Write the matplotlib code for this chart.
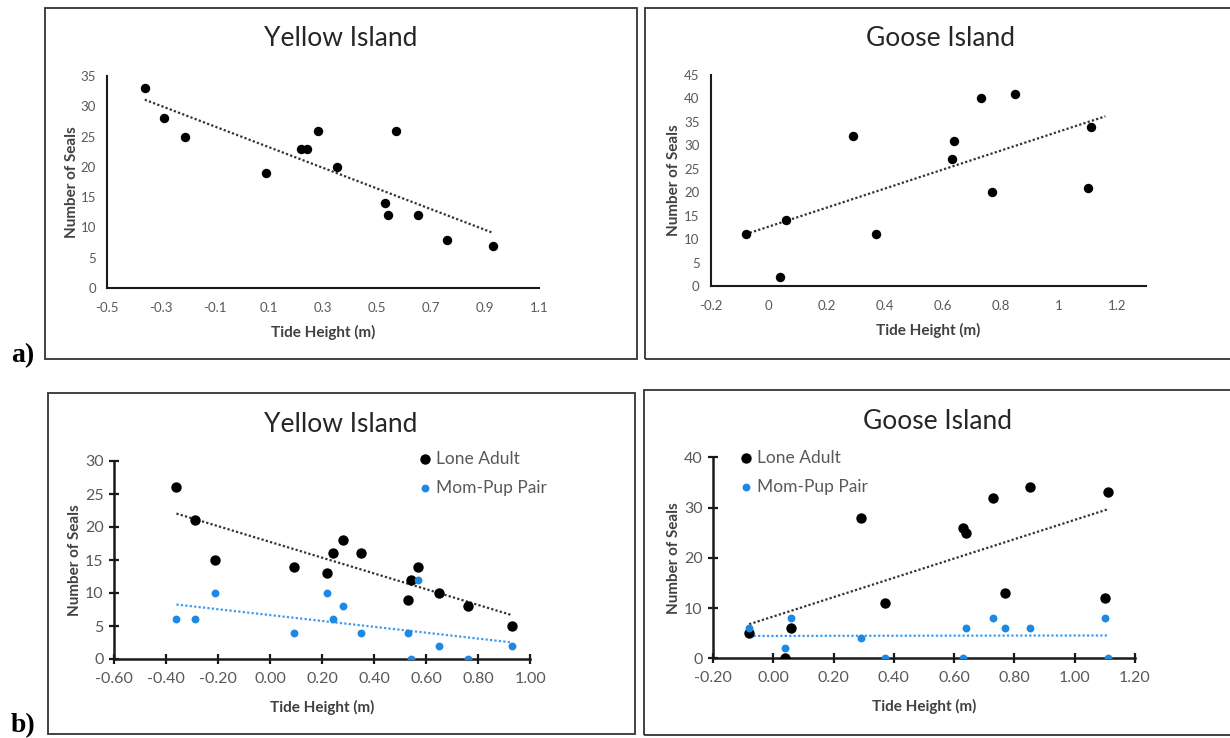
import numpy as np
import matplotlib
matplotlib.use("Agg")
import matplotlib.pyplot as plt
from matplotlib.patches import Rectangle

# ---------------- data ----------------
yellow_tide = [-0.36, -0.29, -0.21, 0.09, 0.22, 0.24, 0.28, 0.35, 0.53, 0.54, 0.57, 0.65, 0.76, 0.93]
yellow_total = [33, 28, 25, 19, 23, 23, 26, 20, 14, 12, 26, 12, 8, 7]
yellow_lone = [26, 21, 15, 14, 13, 16, 18, 16, 9, 12, 14, 10, 8, 5]
yellow_pair = [6, 6, 10, 4, 10, 6, 8, 4, 4, 0, 12, 2, 0, 2]

goose_tide = [-0.08, 0.04, 0.06, 0.29, 0.37, 0.63, 0.64, 0.73, 0.77, 0.85, 1.10, 1.11]
goose_total = [11, 2, 14, 32, 11, 27, 31, 40, 20, 41, 21, 34]
goose_lone = [5, 0, 6, 28, 11, 26, 25, 32, 13, 34, 12, 33]
goose_pair = [6, 2, 8, 4, 0, 0, 6, 8, 6, 6, 8, 0]

titles = ["Yellow Island", "Goose Island"]
series_names = ["Lone Adult", "Mom-Pup Pair"]
xlabel = "Tide Height (m)"
ylabel = "Number of Seals"

ya_xticks = [-0.5, -0.3, -0.1, 0.1, 0.3, 0.5, 0.7, 0.9, 1.1]
ya_xticklabels = ["-0.5", "-0.3", "-0.1", "0.1", "0.3", "0.5", "0.7", "0.9", "1.1"]
ya_yticks = [0, 5, 10, 15, 20, 25, 30, 35]
ga_xticks = [-0.2, 0.0, 0.2, 0.4, 0.6, 0.8, 1.0, 1.2]
ga_xticklabels = ["-0.2", "0", "0.2", "0.4", "0.6", "0.8", "1", "1.2"]
ga_yticks = [0, 5, 10, 15, 20, 25, 30, 35, 40, 45]
yb_xticks = [-0.6, -0.4, -0.2, 0.0, 0.2, 0.4, 0.6, 0.8, 1.0]
yb_yticks = [0, 5, 10, 15, 20, 25, 30]
gb_xticks = [-0.2, 0.0, 0.2, 0.4, 0.6, 0.8, 1.0, 1.2]
gb_yticks = [0, 10, 20, 30, 40]

# ---------------- style ----------------
W, H = 1230, 738
FONT = "Lato"
TICK_C = "#595959"
LAB_C = "#404040"
BLUE = "#1E88E5"
BLUE_LINE = "#3D9BF0"
plt.rcParams["font.family"] = [FONT, "DejaVu Sans"]

fig = plt.figure(figsize=(W / 100, H / 100), dpi=100)


def px_rect(x0, y0, x1, y1):
    return [x0 / W, 1 - y1 / H, (x1 - x0) / W, (y1 - y0) / H]


def frame(x0, y0, x1, y1):
    fig.patches.append(Rectangle((x0 / W, 1 - y1 / H), (x1 - x0) / W, (y1 - y0) / H,
                                 transform=fig.transFigure, fill=False,
                                 edgecolor="#333333", linewidth=1.3))


frame(45, 7.5, 637, 359)
frame(645, 7.5, 1232, 359)
frame(47.5, 393, 635.5, 734)
frame(643.5, 390, 1232, 735)


def trend(ax, x, y, color, extend=0.0, lw=1.6):
    k, b = np.polyfit(x, y, 1)
    xs = np.array([min(x), max(x) + extend])
    ax.plot(xs, k * xs + b, linestyle=(0, (1, 1)), color=color, lw=lw, zorder=2)


def style_axes(ax, cross, ysize, xsize):
    for s in ["top", "right"]:
        ax.spines[s].set_visible(False)
    lw = 1.8 if cross else 1.5
    for s in ["left", "bottom"]:
        ax.spines[s].set_linewidth(lw)
        ax.spines[s].set_color("#1a1a1a")
    if cross:
        ax.tick_params(direction="inout", length=7, width=1.6, color="#1a1a1a",
                       labelcolor=TICK_C, labelsize=ysize)
        ax.tick_params(axis="y", pad=4)
        ax.tick_params(axis="x", pad=6, labelsize=xsize)
    else:
        ax.tick_params(length=0, labelcolor=TICK_C, labelsize=ysize)
        ax.tick_params(axis="y", pad=8)
        ax.tick_params(axis="x", pad=10, labelsize=xsize)


def labels(ax, size, xpad, ypad):
    ax.set_xlabel(xlabel, fontsize=size, fontweight="bold", color=LAB_C, labelpad=xpad)
    ax.set_ylabel(ylabel, fontsize=size, fontweight="bold", color=LAB_C, labelpad=ypad)


# ---- a) Yellow Island ----
ax1 = fig.add_axes(px_rect(107, 76, 539, 288))
ax1.scatter(yellow_tide, yellow_total, s=46, color="black", zorder=3, linewidths=0)
trend(ax1, yellow_tide, yellow_total, "#333333")
ax1.set_xlim(-0.5, 1.1)
ax1.set_ylim(0, 35)
ax1.set_xticks(ya_xticks, ya_xticklabels)
ax1.set_yticks(ya_yticks)
style_axes(ax1, False, 9.5, 9.5)
labels(ax1, 11, 8, 1)
fig.text(341 / W, 1 - 38 / H, titles[0], ha="center", va="center", fontsize=19, color="#262626")

# ---- a) Goose Island ----
ax2 = fig.add_axes(px_rect(710.7, 75, 1146, 286))
ax2.scatter(goose_tide, goose_total, s=46, color="black", zorder=3, linewidths=0)
trend(ax2, goose_tide, goose_total, "#333333", extend=0.05)
ax2.set_xlim(-0.2, 1.3)
ax2.set_ylim(0, 45)
ax2.set_xticks(ga_xticks, ga_xticklabels)
ax2.set_yticks(ga_yticks)
style_axes(ax2, False, 9.5, 9.5)
labels(ax2, 11, 8, 2)
fig.text(941 / W, 1 - 38 / H, titles[1], ha="center", va="center", fontsize=19, color="#262626")

# ---- b) Yellow Island ----
ax3 = fig.add_axes(px_rect(114, 461, 530.3, 659))
h1 = ax3.scatter(yellow_tide, yellow_lone, s=56, color="black", zorder=3, linewidths=0, label=series_names[0])
h2 = ax3.scatter(yellow_tide, yellow_pair, s=32, color=BLUE, zorder=4, linewidths=0, label=series_names[1])
trend(ax3, yellow_tide, yellow_lone, "#333333")
trend(ax3, yellow_tide, yellow_pair, BLUE_LINE)
ax3.set_xlim(-0.6, 1.0)
ax3.set_ylim(0, 30)
ax3.set_xticks(yb_xticks, [f"{v:.2f}" for v in yb_xticks])
ax3.set_yticks(yb_yticks)
style_axes(ax3, True, 11.5, 11.5)
labels(ax3, 11, 10, 2)
fig.text(341 / W, 1 - 424 / H, titles[0], ha="center", va="center", fontsize=19, color="#262626")
ax3.legend(handles=[h1, h2], loc="upper left", bbox_to_anchor=(408 / W, 1 - 444 / H),
           bbox_transform=fig.transFigure, frameon=False, fontsize=12.5, labelcolor=TICK_C,
           handletextpad=0.0, labelspacing=0.75, borderaxespad=0, handlelength=1.2)

# ---- b) Goose Island ----
ax4 = fig.add_axes(px_rect(713, 457.3, 1135, 658.3))
g1 = ax4.scatter(goose_tide, goose_lone, s=56, color="black", zorder=3, linewidths=0, label=series_names[0])
g2 = ax4.scatter(goose_tide, goose_pair, s=32, color=BLUE, zorder=4, linewidths=0, label=series_names[1])
trend(ax4, goose_tide, goose_lone, "#333333")
trend(ax4, goose_tide, goose_pair, BLUE_LINE)
ax4.set_xlim(-0.2, 1.2)
ax4.set_ylim(0, 40)
ax4.set_xticks(gb_xticks, [f"{v:.2f}" for v in gb_xticks])
ax4.set_yticks(gb_yticks)
style_axes(ax4, True, 11.5, 11.5)
labels(ax4, 11, 10, 2)
fig.text(937 / W, 1 - 421 / H, titles[1], ha="center", va="center", fontsize=19, color="#262626")
ax4.legend(handles=[g1, g2], loc="upper left", bbox_to_anchor=(729 / W, 1 - 443 / H),
           bbox_transform=fig.transFigure, frameon=False, fontsize=12.5, labelcolor=TICK_C,
           handletextpad=0.0, labelspacing=0.75, borderaxespad=0, handlelength=1.2)

# panel labels
fig.text(11 / W, 1 - 362 / H, "a)", fontsize=20, fontweight="bold", family="Liberation Serif",
         ha="left", va="baseline")
fig.text(11 / W, 1 - 732 / H, "b)", fontsize=20, fontweight="bold", family="Liberation Serif",
         ha="left", va="baseline")

fig.savefig("out.png", dpi=100, facecolor="white")
